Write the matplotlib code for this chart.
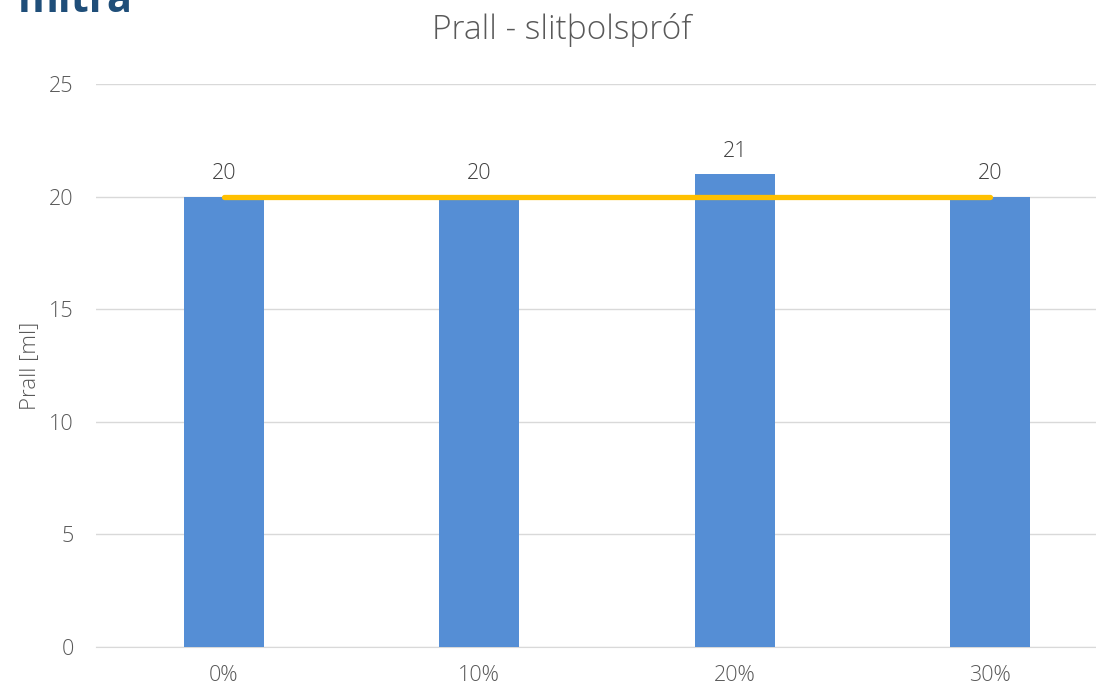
import matplotlib
matplotlib.use("Agg")
import matplotlib.pyplot as plt

categories = ["0%", "10%", "20%", "30%"]
values = [20, 20, 21, 20]
ref_line = [20, 20, 20, 20]
yticks = [0, 5, 10, 15, 20, 25]

plt.rcParams['font.family'] = ['Open Sans', 'DejaVu Sans']
W, H = 1096, 688
fig = plt.figure(figsize=(W/100, H/100), dpi=100)
ax = fig.add_axes([96/W, 41/H, 1022/W, 563/H])

x = list(range(len(categories)))
ax.bar(x, values, width=0.313, color="#558ED5", zorder=2)
ax.plot(x, ref_line, color="#FFC000", lw=3.8, solid_capstyle="round", zorder=3)
for xi, v in zip(x, values):
    ax.text(xi, v + 0.55, str(v), ha="center", va="bottom", fontsize=15.5,
            color="#404040", fontweight="light")

ax.set_xlim(-0.5, len(categories) - 0.5)
ax.set_ylim(0, 25)
ax.set_yticks(yticks)
ax.set_xticks(x)
ax.set_xticklabels(categories)
ax.tick_params(axis="both", length=0, labelsize=15.5, colors="#595959")
for lab in ax.get_xticklabels() + ax.get_yticklabels():
    lab.set_fontweight("light")
ax.tick_params(axis="y", pad=16)
ax.tick_params(axis="x", pad=13)
ax.grid(axis="y", color="#D9D9D9", lw=1, zorder=0)
for s in ["top", "right", "left"]:
    ax.spines[s].set_visible(False)
ax.spines["bottom"].set_color("#D9D9D9")
ax.spines["bottom"].set_zorder(1)
ax.set_axisbelow(True)

fig.text(562/W, 1 - 30/H, "Prall - slitþolspróf", ha="center", va="center", fontsize=24,
         color="#595959", fontweight="light")
fig.text(30/W, 1 - 366/H, "Prall [ml]", ha="center", va="center", rotation=90, fontsize=16,
         color="#595959", fontweight="light")
fig.text(133/W, 1 - 12/H, "mitra", ha="right", va="baseline", fontsize=30, fontweight="bold",
         color="#1F4E79")

fig.savefig("out.png", dpi=100)
